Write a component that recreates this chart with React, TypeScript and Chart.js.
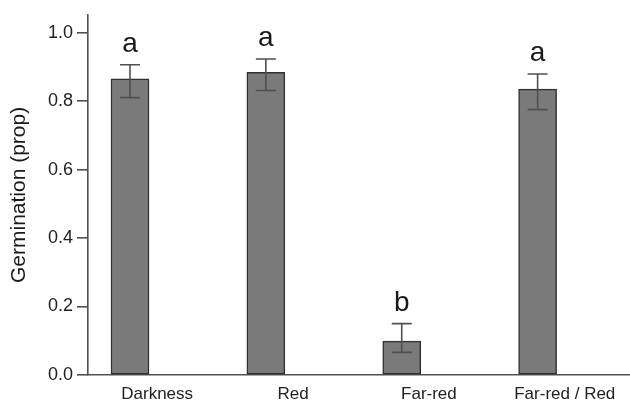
import React, { useEffect, useRef } from "react";
import { Chart, registerables } from "chart.js";

Chart.register(...registerables);

const categories = ["Darkness", "Red", "Far-red", "Far-red / Red"];
const means = [0.865, 0.884, 0.099, 0.835];
const errUpper = [0.906, 0.923, 0.15, 0.879];
const errLower = [0.81, 0.831, 0.066, 0.775];
const letters = ["a", "a", "b", "a"];
const yTicks = [0, 0.2, 0.4, 0.6, 0.8, 1.0];
const labelOffset = 0.2;

const FONT = "'Liberation Sans', Arial, Helvetica, sans-serif";

const errorPlugin = {
  id: "errorBarsLetters",
  afterDatasetsDraw(chart: any) {
    const { ctx, scales } = chart;
    const xs = scales.x;
    const ys = scales.y;
    ctx.save();
    ctx.strokeStyle = "#505050";
    ctx.lineWidth = 1.6;
    const cap = 10;
    categories.forEach((_, i) => {
      const x = xs.getPixelForValue(i);
      const yTop = ys.getPixelForValue(errUpper[i]);
      const yBot = ys.getPixelForValue(errLower[i]);
      ctx.beginPath();
      ctx.moveTo(x, yTop);
      ctx.lineTo(x, yBot);
      ctx.moveTo(x - cap, yTop);
      ctx.lineTo(x + cap, yTop);
      ctx.moveTo(x - cap, yBot);
      ctx.lineTo(x + cap, yBot);
      ctx.stroke();
      ctx.fillStyle = "#1a1a1a";
      ctx.font = `28px ${FONT}`;
      ctx.textAlign = "center";
      ctx.textBaseline = "alphabetic";
      ctx.fillText(letters[i], x, yTop - 13);
    });
    ctx.restore();
  },
};

export default function App() {
  const ref = useRef<HTMLCanvasElement | null>(null);
  useEffect(() => {
    document.body.style.margin = "0";
    const canvas = ref.current;
    if (!canvas) return;
    const chart = new Chart(canvas, {
      type: "bar",
      data: {
        datasets: [
          {
            data: categories.map((c, i) => ({ x: i, y: means[i] })),
            backgroundColor: "#7a7a7a",
            borderColor: "#303030",
            borderWidth: 1.5,
            borderSkipped: false,
            barThickness: 38,
          },
        ],
      },
      options: {
        animation: false,
        responsive: false,
        maintainAspectRatio: false,
        layout: { padding: { top: 12, right: 0, left: 0, bottom: 0 } },
        plugins: {
          legend: { display: false },
          tooltip: { enabled: false },
        },
        scales: {
          x: {
            type: "linear",
            offset: false,
            min: -0.309,
            max: 3.68,
            afterBuildTicks: (scale: any) => {
              scale.ticks = categories.map((_, i) => ({ value: i + labelOffset }));
            },
            afterFit: (scale: any) => {
              scale.height = 32;
            },
            grid: { display: false, drawTicks: false, offset: false },
            border: { display: true, color: "#505050", width: 1.6 },
            ticks: {
              padding: 9,
              autoSkip: false,
              maxRotation: 0,
              color: "#222",
              font: { family: FONT, size: 17 },
              callback: (v: any, idx: number) => categories[idx],
            },
          },
          y: {
            min: 0,
            max: 1.052,
            afterBuildTicks: (scale: any) => {
              scale.ticks = yTicks.map((v) => ({ value: v }));
            },
            afterFit: (scale: any) => {
              scale.width = 88;
            },
            grid: {
              drawOnChartArea: false,
              drawTicks: true,
              tickLength: 11,
              color: "#505050",
              lineWidth: 1.6,
            },
            border: { display: true, color: "#505050", width: 1.6 },
            ticks: {
              padding: 4,
              color: "#222",
              font: { family: FONT, size: 18 },
              callback: (v: any) => Number(v).toFixed(1),
            },
            title: {
              display: true,
              text: "Germination (prop)",
              color: "#1a1a1a",
              font: { family: FONT, size: 21 },
              padding: { top: 7, bottom: 0 },
            },
          },
        },
      },
      plugins: [errorPlugin],
    });
    return () => chart.destroy();
  }, []);
  return (
    <div style={{ width: 630, height: 407 }}>
      <canvas ref={ref} width={630} height={407} style={{ display: "block" }} />
    </div>
  );
}
